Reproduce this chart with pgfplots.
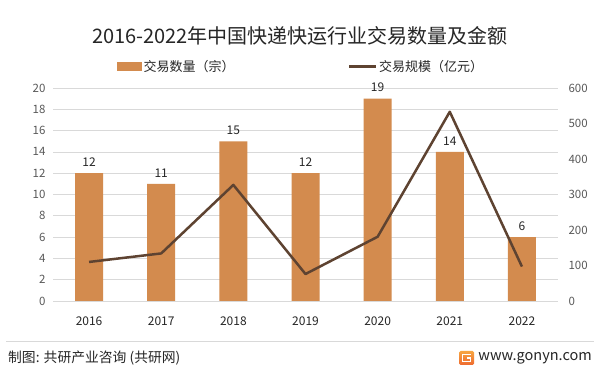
\documentclass[border=0pt]{standalone}
\usepackage{pgfplots}
\pgfplotsset{compat=1.18}
\usepackage{fontspec}
\setmainfont{Noto Sans CJK SC}
\definecolor{barc}{HTML}{D38B4E}
\definecolor{linec}{HTML}{5E4331}
\definecolor{gridc}{HTML}{D9D9D9}
\definecolor{tickc}{HTML}{595959}
\definecolor{txtc}{HTML}{262626}
\definecolor{logoA}{HTML}{F7A541}
\definecolor{logoB}{HTML}{EE6A2F}
\newcommand{\fs}[1]{\fontsize{#1}{#1}\selectfont}
\begin{document}
\begin{tikzpicture}
\path[fill=white] (0pt,0pt) rectangle (600pt,375pt);
\begin{axis}[name=ax1, at={(53pt,74pt)}, anchor=south west, scale only axis,
  width=505pt, height=213pt,
  xmin=-0.5, xmax=6.5, ymin=0, ymax=20,
  ytick={0,2,...,20}, xtick={0,...,6},
  xticklabels={2016,2017,2018,2019,2020,2021,2022},
  axis line style={draw=none}, major tick length=0pt,
  ymajorgrids, grid style={gridc, line width=0.8pt},
  /pgf/number format/assume math mode=true,
  yticklabel style={font=\fs{11.5}, text=tickc, xshift=-4pt},
  xticklabel style={font=\fs{12}, text=txtc, yshift=-12pt},
  legend columns=2,
  legend style={at={(0.1267,1.1)}, anchor=west, draw=none, fill=none,
    inner sep=0pt, font=\fs{13}, text=txtc,
    /tikz/every even column/.append style={column sep=112pt},
    nodes={inner sep=1.5pt}},
]
\addplot[ybar, bar width=28pt, fill=barc, draw=none,
  nodes near coords, every node near coord/.append style={font=\fs{12}, text=txtc, yshift=3pt},
  legend image code/.code={\fill[barc] (0pt,-4.2pt) rectangle (25pt,4.2pt);}]
  coordinates {(0,12) (1,11) (2,15) (3,12) (4,19) (5,14) (6,6)};
\addlegendentry{交易数量（宗）}
\addlegendimage{legend image code/.code={\draw[linec, line width=2.5pt] (0pt,0pt) -- (27pt,0pt);}}
\addlegendentry{交易规模（亿元）}
\end{axis}
\begin{axis}[at={(ax1.south west)}, anchor=south west, scale only axis,
  width=505pt, height=213pt,
  xmin=-0.5, xmax=6.5, ymin=0, ymax=600,
  ytick={0,100,...,600}, xtick=\empty,
  axis y line*=right, axis x line*=bottom,
  axis line style={draw=none}, major tick length=0pt,
  /pgf/number format/assume math mode=true,
  yticklabel style={font=\fs{11.5}, text=tickc, xshift=7pt},
]
\addplot[linec, line width=2.5pt, no markers, line join=round]
  coordinates {(0,110) (1,134) (2,327) (3,76) (4,181) (5,533) (6,97)};
\end{axis}
\node[font=\fs{20}, text=txtc] at (300pt,339pt) {2016-2022年中国快递快运行业交易数量及金额};
\draw[gridc, line width=0.8pt] (6pt,34pt) -- (594pt,34pt);
\node[font=\fs{13.8}, text=txtc, anchor=west, inner sep=0pt] at (8pt,16.5pt) {制图: 共研产业咨询 (共研网)};
\node[font=\fs{14.5}, text=txtc, anchor=east, inner sep=0pt] at (592pt,16.5pt) {www.gonyn.com};
\shade[top color=logoA, bottom color=logoB, rounded corners=1.5pt] (459pt,10pt) rectangle (474pt,24pt);
\draw[white, line width=1.8pt] (470.5pt,20.5pt) -- (462.5pt,20.5pt) -- (462.5pt,13.5pt) -- (470.5pt,13.5pt) -- (470.5pt,17pt) -- (466.5pt,17pt);
\end{tikzpicture}
\end{document}
